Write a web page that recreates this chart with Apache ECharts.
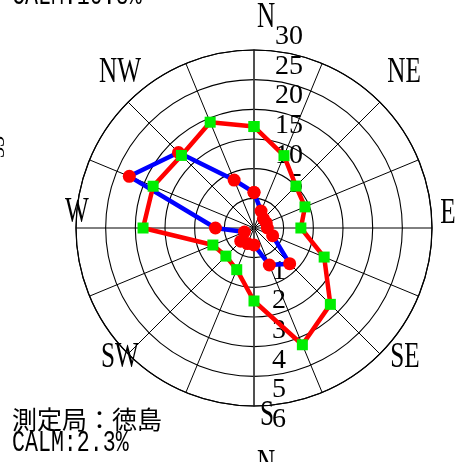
<!DOCTYPE html>
<html>
<head>
<meta charset="utf-8">
<script src="https://cdn.jsdelivr.net/npm/echarts@6/dist/echarts.min.js"></script>
<style>
  html, body { margin: 0; padding: 0; background: #fff; }
  #main { width: 459px; height: 462px; }
</style>
</head>
<body>
<div id="main"></div>
<script>
// 16方位
const directions = ['N', 'NNE', 'NE', 'ENE', 'E', 'ESE', 'SE', 'SSE', 'S', 'SSW', 'SW', 'WSW', 'W', 'WNW', 'NW', 'NNW'];
// 出現頻度 (%)
const frequency = [17.1, 13.2, 10.0, 9.3, 7.9, 12.8, 18.2, 21.3, 12.3, 7.6, 6.7, 7.5, 18.7, 18.4, 17.3, 19.3];
// 平均風速 (m/s)
const meanSpeed = [1.2, 0.62, 0.45, 0.45, 0.45, 0.68, 1.7, 1.35, 0.57, 0.57, 0.63, 0.35, 1.3, 4.55, 3.6, 1.75];
// 目盛ラベル
const freqTicks = [5, 10, 15, 20, 25, 30];
const speedTicks = [1, 2, 3, 4, 5, 6];
const compassLabels = ['N', 'NE', 'E', 'SE', 'S', 'SW', 'W', 'NW'];
const station = '測定局：徳島';
const calm = 'CALM:2.3%';
const calmPrev = 'CALM:10.8%';

const chart = echarts.init(document.getElementById('main'));

const step = 360 / directions.length;
const wrap = (a) => (a > 180 ? a - 360 : a);
// 頻度: 0..360, 風速: -180..180 (ラベルを南側に出すため)
const freqData = frequency.map((v, i) => [v, i * step]);
freqData.push([frequency[0], 360]);
const speedData = meanSpeed.map((v, i) => [v, wrap(i * step)]);
speedData.push([meanSpeed[0], 0]);

const cx = 254, cy = 228, R = 178;
// 方位ラベルの位置
const compassPos = [
  [266, 18], [404, 73], [448, 214], [405, 358],
  [267, 416], [120, 358], [77, 213], [120, 73]
];

const monoText = (text, x, y) => ({
  type: 'text', x: x, y: y, scaleX: 0.72,
  style: { text: text, font: '30px "Liberation Mono"', fill: '#000', align: 'left', verticalAlign: 'middle' }
});

const option = {
  animation: false,
  backgroundColor: '#fff',
  polar: [
    { center: [cx, cy], radius: R },
    { center: [cx, cy], radius: R }
  ],
  angleAxis: [
    {
      polarIndex: 0, type: 'value', min: 0, max: 360, interval: step,
      startAngle: 90, clockwise: true,
      axisLine: { lineStyle: { color: '#000', width: 1.2 } },
      axisTick: { show: false },
      axisLabel: { show: false },
      splitLine: { lineStyle: { color: '#000', width: 1 } }
    },
    {
      polarIndex: 1, type: 'value', min: -180, max: 180,
      startAngle: 270, clockwise: true,
      axisLine: { show: false },
      axisTick: { show: false },
      axisLabel: { show: false },
      splitLine: { show: false }
    }
  ],
  radiusAxis: [
    {
      polarIndex: 0, type: 'value', min: 0, max: 30, interval: 5,
      axisLine: { show: true, lineStyle: { color: '#444', width: 1.6 } },
      axisTick: { show: false },
      axisLabel: {
        showMinLabel: false, showMaxLabel: true, hideOverlap: false,
        margin: -49, align: 'right', verticalAlign: 'bottom', lineHeight: 27,
        fontFamily: 'Liberation Serif', fontSize: 28, color: '#000',
        formatter: (v) => (freqTicks.includes(v) ? String(v) : '')
      },
      splitLine: { show: true, lineStyle: { color: '#000', width: 1.1 } }
    },
    {
      polarIndex: 1, type: 'value', min: 0, max: 6, interval: 1,
      axisLine: { show: true, lineStyle: { color: '#444', width: 1.6 } },
      axisTick: { show: false },
      axisLabel: {
        showMinLabel: false, showMaxLabel: true, hideOverlap: false,
        margin: 18, align: 'left', verticalAlign: 'top', lineHeight: 27,
        fontFamily: 'Liberation Serif', fontSize: 28, color: '#000',
        formatter: (v) => (speedTicks.includes(v) ? String(v) : '')
      },
      splitLine: { show: false }
    }
  ],
  series: [
    {
      name: '平均風速', type: 'line', coordinateSystem: 'polar', polarIndex: 1,
      data: speedData, symbol: 'circle', symbolSize: 13, z: 3,
      lineStyle: { color: '#0000ff', width: 4.5 },
      itemStyle: { color: '#ff0000' }
    },
    {
      name: '出現頻度', type: 'line', coordinateSystem: 'polar', polarIndex: 0,
      data: freqData, symbol: 'rect', symbolSize: 11, z: 4,
      lineStyle: { color: '#ff0000', width: 4.5 },
      itemStyle: { color: '#00ee00' }
    }
  ],
  graphic: compassLabels.map((t, i) => ({
    type: 'text', x: compassPos[i][0], y: compassPos[i][1], scaleX: 0.72,
    style: { text: t, font: '35px "Liberation Serif"', fill: '#000', align: 'center', verticalAlign: 'middle' }
  })).concat([
    {
      type: 'text', x: 12, y: 419,
      style: { text: station, font: '25px "Noto Sans CJK JP"', fill: '#000', align: 'left', verticalAlign: 'middle' }
    },
    monoText(calm, 12, 443),
    monoText(calmPrev, 12, -4),
    {
      type: 'text', x: 266, y: 465, scaleX: 0.72,
      style: { text: 'N', font: '35px "Liberation Serif"', fill: '#000', align: 'center', verticalAlign: 'middle' }
    },
    {
      type: 'text', x: -2, y: 147, rotation: Math.PI / 2,
      style: { text: '33', font: '22px "Liberation Serif"', fill: '#000', align: 'center', verticalAlign: 'middle' }
    }
  ])
};

chart.setOption(option);
</script>
</body>
</html>
